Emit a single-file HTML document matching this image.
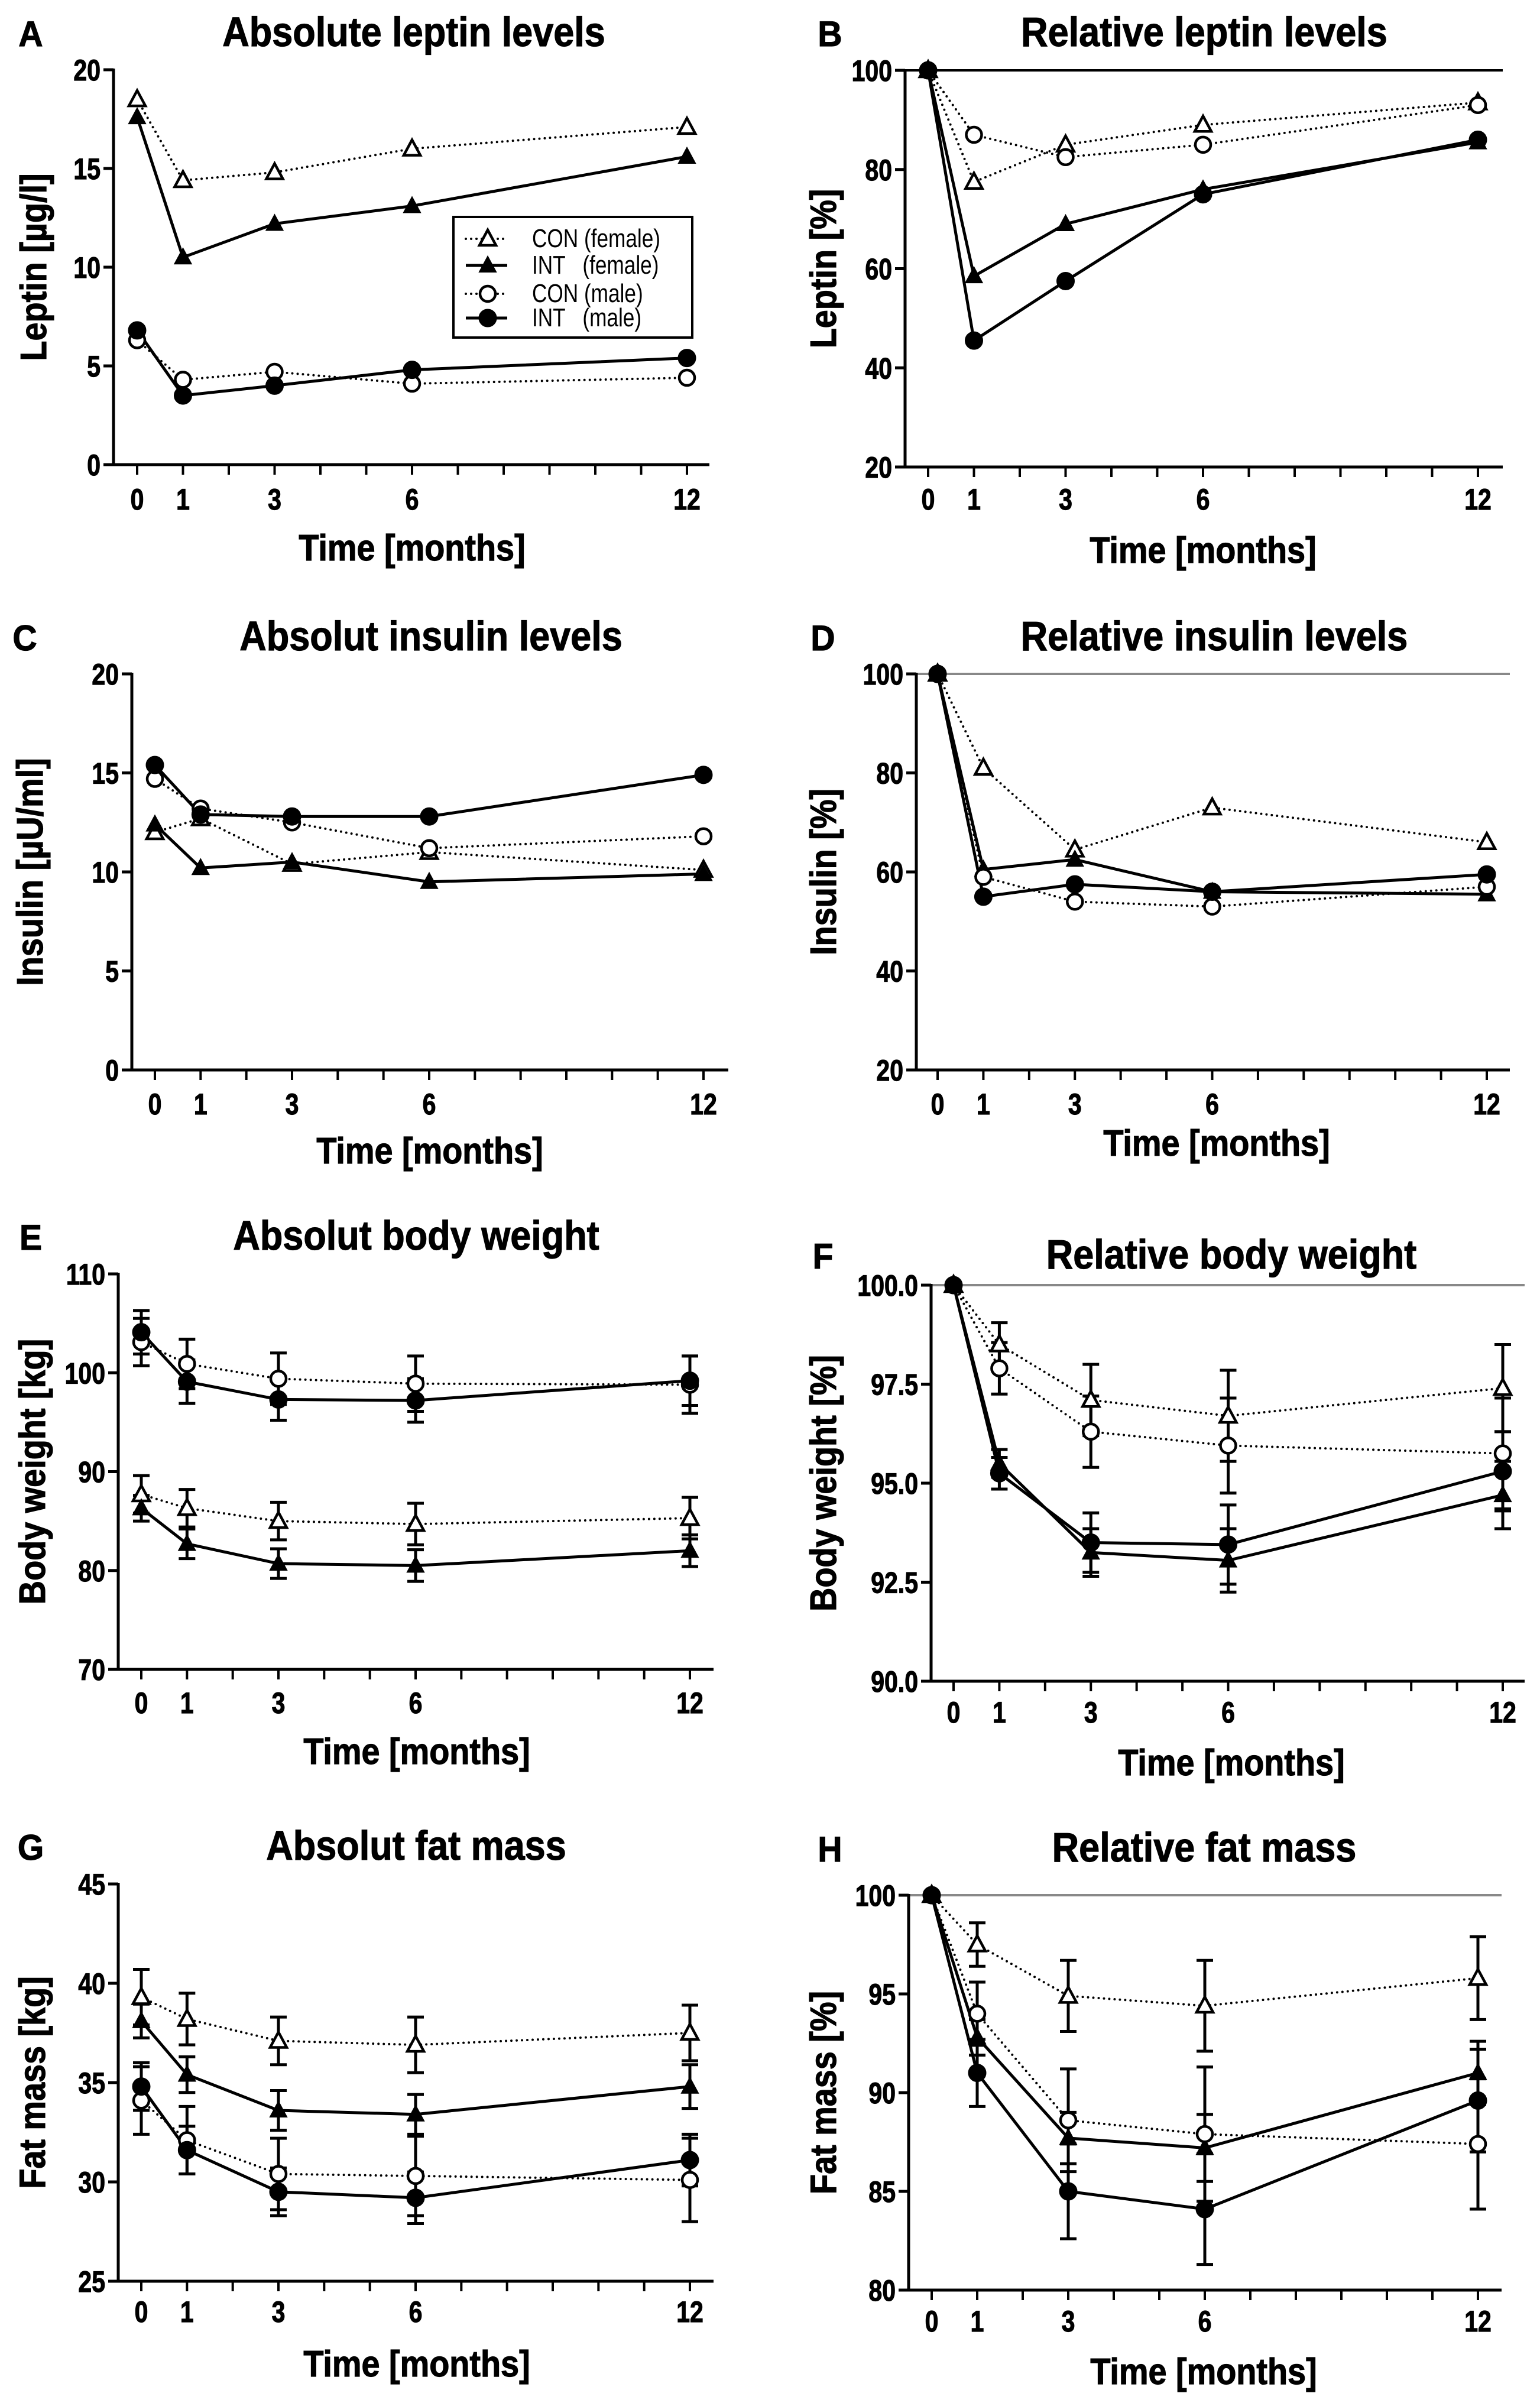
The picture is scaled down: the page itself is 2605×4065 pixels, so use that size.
<!DOCTYPE html>
<html><head><meta charset="utf-8"><style>
html,body{margin:0;padding:0;background:#fff}
svg{display:block}
text{font-family:"Liberation Sans",sans-serif;font-weight:bold;fill:#000;stroke:#000;stroke-width:1.2}
</style></head><body>
<svg id="fig" xmlns="http://www.w3.org/2000/svg" width="2605" height="4065" viewBox="0 0 2605 4065"></svg>
<script>
const months=[0,1,3,6,12];
const monthTickLabels=["0","1","3","6","12"];
// Panel A
const aConF=[18.5,14.4,14.8,16,17.1];
const aIntF=[17.6,10.5,12.2,13.1,15.6];
const aConM=[6.3,4.3,4.7,4.1,4.4];
const aIntM=[6.8,3.5,4.0,4.8,5.4];
const aTicks=[0,5,10,15,20];
// Panel B
const bConF=[100,77.5,85,89,93.5];
const bIntF=[100,58.5,69,76,85.5];
const bConM=[100,87,82.5,85,93];
const bIntM=[100,45.5,57.5,75,86];
const bTicks=[20,40,60,80,100];
// Panel C
const cConF=[12,12.7,10.4,11,10.1];
const cIntF=[12.4,10.2,10.5,9.5,9.9];
const cConM=[14.7,13.2,12.5,11.2,11.8];
const cIntM=[15.4,12.9,12.8,12.8,14.9];
const cTicks=[0,5,10,15,20];
// Panel D
const dConF=[100,81,64.5,73,66];
const dIntF=[100,60.5,62.5,56,55.5];
const dConM=[100,59,54,53,57];
const dIntM=[100,55,57.5,56,59.5];
const dTicks=[20,40,60,80,100];
// Panel E
const eConF=[87.7,86.3,85,84.7,85.3];
const eConFErr=[1.9,1.9,1.9,2.1,2.1];
const eIntF=[86.3,82.7,80.7,80.5,82];
const eIntFErr=[1.3,1.5,1.5,1.6,1.6];
const eConM=[103.1,100.9,99.4,98.9,98.8];
const eConMErr=[2.4,2.5,2.6,2.8,2.9];
const eIntM=[104.1,99.1,97.3,97.2,99.2];
const eIntMErr=[2.2,2.2,2.1,2.2,2.5];
const eTicks=[70,80,90,100,110];
// Panel F
const fConF=[100,98.5,97.1,96.7,97.4];
const fConFErr=[0,0.55,0.9,1.15,1.1];
const fIntF=[100,95.5,93.25,93.05,94.7];
const fIntFErr=[0,0.35,0.6,0.8,0.85];
const fConM=[100,97.9,96.3,95.95,95.75];
const fConMErr=[0,0.65,0.9,1.2,1.4];
const fIntM=[100,95.25,93.5,93.45,95.3];
const fIntMErr=[0,0.4,0.75,1.0,1.0];
const fTicks=[90,92.5,95,97.5,100];
// Panel G
const gConF=[39.3,38.2,37.1,36.9,37.5];
const gConFErr=[1.4,1.3,1.2,1.4,1.4];
const gIntF=[38.1,35.4,33.6,33.4,34.8];
const gIntFErr=[0.85,0.9,1.0,1.0,1.1];
const gConM=[34.1,32.1,30.4,30.3,30.1];
const gConMErr=[1.7,1.7,1.8,2.0,2.1];
const gIntM=[34.8,31.6,29.5,29.2,31.1];
const gIntMErr=[1.2,1.2,1.2,1.3,1.3];
const gTicks=[25,30,35,40,45];
// Panel H
const hConF=[100,97.5,94.9,94.4,95.8];
const hConFErr=[0,1.1,1.8,2.3,2.1];
const hIntF=[100,92.8,87.7,87.2,91];
const hIntFErr=[0,0.9,1.3,1.7,1.6];
const hConM=[100,94,88.6,87.9,87.4];
const hConMErr=[0,1.6,2.6,3.4,3.3];
const hIntM=[100,91,85,84.1,89.6];
const hIntMErr=[0,1.7,2.4,2.8,2.6];
const hTicks=[80,85,90,95,100];

const NS="http://www.w3.org/2000/svg";
const svg=document.getElementById('fig');
function el(tag,attrs,parent){const e=document.createElementNS(NS,tag);for(const k in attrs)e.setAttribute(k,attrs[k]);(parent||svg).appendChild(e);return e;}
function txt(s,x,y,attrs,parent,sx,pre){
  const a=Object.assign({},attrs);
  a.x=0;a.y=0;
  a.transform=`translate(${x},${y})${pre?' '+pre:''} scale(${sx||0.84},1)`;
  const e=el('text',a,parent);e.textContent=s;return e;
}

const panels=[
 {id:'a',letter:'A',title:'Absolute leptin levels',ylabel:'Leptin [µg/l]',ax:192,x0:232,x12:1162,xe:1200,yTop:118,yBot:786,ticks:aTicks,dec:0,series:[aConF,aIntF,aConM,aIntM],errs:null,ref:null,titleX:700,titleY:78,letterX:52,ylabX:56,tickY:862,xlabY:946,xlabX:697},
 {id:'b',letter:'B',title:'Relative leptin levels',ylabel:'Leptin [%]',ax:1531,x0:1570,x12:2500,xe:2542,yTop:119,yBot:790,ticks:bTicks,dec:0,series:[bConF,bIntF,bConM,bIntM],errs:null,ref:'#000',titleX:2037,titleY:78,letterX:1404,ylabX:1392,tickY:862,xlabY:950,xlabX:2035},
 {id:'c',letter:'C',title:'Absolut insulin levels',ylabel:'Insulin [µU/ml]',ax:223,x0:262,x12:1190,xe:1232,yTop:1140,yBot:1810,ticks:cTicks,dec:0,series:[cConF,cIntF,cConM,cIntM],errs:null,ref:null,titleX:729,titleY:1100,letterX:42,ylabX:50,tickY:1885,xlabY:1966,xlabX:727},
 {id:'d',letter:'D',title:'Relative insulin levels',ylabel:'Insulin [%]',ax:1550,x0:1586,x12:2515,xe:2554,yTop:1140,yBot:1810,ticks:dTicks,dec:0,series:[dConF,dIntF,dConM,dIntM],errs:null,ref:'#888',titleX:2054,titleY:1100,letterX:1392,ylabX:1392,tickY:1885,xlabY:1953,xlabX:2058},
 {id:'e',letter:'E',title:'Absolut body weight',ylabel:'Body weight [kg]',ax:200,x0:239,x12:1167,xe:1207,yTop:2155,yBot:2824,ticks:eTicks,dec:0,series:[eConF,eIntF,eConM,eIntM],errs:[eConFErr,eIntFErr,eConMErr,eIntMErr],ref:null,titleX:704,titleY:2114,letterX:52,ylabX:54,tickY:2898,xlabY:2982,xlabX:705},
 {id:'f',letter:'F',title:'Relative body weight',ylabel:'Body weight [%]',ax:1575,x0:1613,x12:2542,xe:2579,yTop:2174,yBot:2844,ticks:fTicks,dec:1,series:[fConF,fIntF,fConM,fIntM],errs:[fConFErr,fIntFErr,fConMErr,fIntMErr],ref:'#888',titleX:2083,titleY:2146,letterX:1392,ylabX:1392,tickY:2914,xlabY:3001,xlabX:2083},
 {id:'g',letter:'G',title:'Absolut fat mass',ylabel:'Fat mass [kg]',ax:200,x0:239,x12:1167,xe:1207,yTop:3187,yBot:3859,ticks:gTicks,dec:0,series:[gConF,gIntF,gConM,gIntM],errs:[gConFErr,gIntFErr,gConMErr,gIntMErr],ref:null,titleX:704,titleY:3146,letterX:52,ylabX:54,tickY:3928,xlabY:4018,xlabX:705},
 {id:'h',letter:'H',title:'Relative fat mass',ylabel:'Fat mass [%]',ax:1537,x0:1576,x12:2500,xe:2540,yTop:3206,yBot:3874,ticks:hTicks,dec:0,series:[hConF,hIntF,hConM,hIntM],errs:[hConFErr,hIntFErr,hConMErr,hIntMErr],ref:'#888',titleX:2037,titleY:3149,letterX:1404,ylabX:1392,tickY:3944,xlabY:4031,xlabX:2036}
];
const seriesNames=['con-female','int-female','con-male','int-male'];
const seriesDotted=[true,false,true,false];
const seriesTri=[true,true,false,false];
const seriesFilled=[false,true,false,true];

function marker(g,x,y,i){
  let m;
  if(seriesTri[i]){
    m=el('polygon',{points:`${x},${y-15} ${x-14},${y+11} ${x+14},${y+11}`,fill:seriesFilled[i]?'#000':'#fff',stroke:'#000','stroke-width':seriesFilled[i]?2:4.5,'stroke-linejoin':'miter'},g);
  }else{
    m=el('circle',{cx:x,cy:y,r:seriesFilled[i]?15:13,fill:seriesFilled[i]?'#000':'#fff',stroke:'#000','stroke-width':seriesFilled[i]?1:4.5},g);
  }
  return m;
}

panels.forEach(p=>{
  const step=(p.x12-p.x0)/12;
  const xs=m=>p.x0+m*step;
  const lo=p.ticks[0],hi=p.ticks[p.ticks.length-1];
  const ys=v=>p.yBot-(v-lo)/(hi-lo)*(p.yBot-p.yTop);
  const g=el('g',{});
  
  
  const L=txt(p.letter,p.letterX,p.titleY,{'font-size':60,'text-anchor':'middle'},g,0.95);
  
  
  const T=txt(p.title,p.titleX,p.titleY,{'font-size':70,'text-anchor':'middle'},g,0.9);
  
  
  if(p.ref){
    const r=el('line',{x1:p.ax,y1:ys(100),x2:p.xe,y2:ys(100),stroke:p.ref,'stroke-width':4},g);
    
    
  }
  const yax=el('line',{x1:p.ax,y1:p.yTop-2,x2:p.ax,y2:p.yBot+2.5,stroke:'#000','stroke-width':5},g);
  
  
  const xax=el('line',{x1:p.ax-2.5,y1:p.yBot,x2:p.xe,y2:p.yBot,stroke:'#000','stroke-width':5},g);
  
  
  p.ticks.forEach(t=>{
    const y=ys(t);
    el('line',{x1:p.ax-17,y1:y,x2:p.ax,y2:y,stroke:'#000','stroke-width':5},g);
    const tl=txt(t.toFixed(p.dec),p.ax-22,y+18,{'font-size':50,'text-anchor':'end'},g,0.82);
    
    
  });
  for(let m=0;m<=12;m++){
    el('line',{x1:xs(m),y1:p.yBot,x2:xs(m),y2:p.yBot+17,stroke:'#000','stroke-width':4},g);
  }
  months.forEach((m,k)=>{
    const xl=txt(monthTickLabels[k],xs(m),p.tickY,{'font-size':50,'text-anchor':'middle'},g,0.82);
    
    
  });
  const xt=txt('Time [months]',p.xlabX,p.xlabY+2,{'font-size':62,'text-anchor':'middle'},g,0.9);
  
  
  const yc=(p.yTop+p.yBot)/2;
  const yt=txt(p.ylabel,p.ylabX+22,yc,{'font-size':62,'text-anchor':'middle'},g,0.9,'rotate(-90)');
  
  
  if(p.errs){
    p.series.forEach((s,i)=>{
      s.forEach((v,k)=>{
        const e=p.errs[i][k]; if(!e) return;
        const x=xs(months[k]);
        const eg=el('g',{stroke:'#000','stroke-width':5},g);
        
        
        el('line',{x1:x,y1:ys(v-e),x2:x,y2:ys(v+e)},eg);
        el('line',{x1:x-14,y1:ys(v-e),x2:x+14,y2:ys(v-e)},eg);
        el('line',{x1:x-14,y1:ys(v+e),x2:x+14,y2:ys(v+e)},eg);
      });
    });
  }
  p.series.forEach((s,i)=>{
    const pts=s.map((v,k)=>xs(months[k])+','+ys(v)).join(' ');
    const ln=el('polyline',{points:pts,fill:'none',stroke:'#000','stroke-width':seriesDotted[i]?4:5,'stroke-dasharray':seriesDotted[i]?'0 9':'none','stroke-linecap':seriesDotted[i]?'round':'butt'},g);
    
    
  });
  p.series.forEach((s,i)=>{
    s.forEach((v,k)=>{
      const mk=marker(g,xs(months[k]),ys(v),i);
      
      
    });
  });
});

const legendLabels=['CON (female)','INT   (female)','CON (male)','INT   (male)'];
const lg=el('g',{});


el('rect',{x:767,y:367,width:404,height:204,fill:'#fff',stroke:'#000','stroke-width':4},lg);
const legendY=[404,449,497,538];
legendLabels.forEach((lab,i)=>{
  const y=legendY[i];
  const eg=el('g',{},lg);
  
  
  el('line',{x1:788,y1:y,x2:858,y2:y,stroke:'#000','stroke-width':seriesDotted[i]?4:5,'stroke-dasharray':seriesDotted[i]?'0 9':'none','stroke-linecap':seriesDotted[i]?'round':'butt'},eg);
  marker(eg,825,y,i);
  txt(lab,900,y+14,{'font-size':44,style:'font-weight:normal;stroke:none;white-space:pre','xml:space':'preserve'},eg,0.8);
});
</script>
</body></html>
